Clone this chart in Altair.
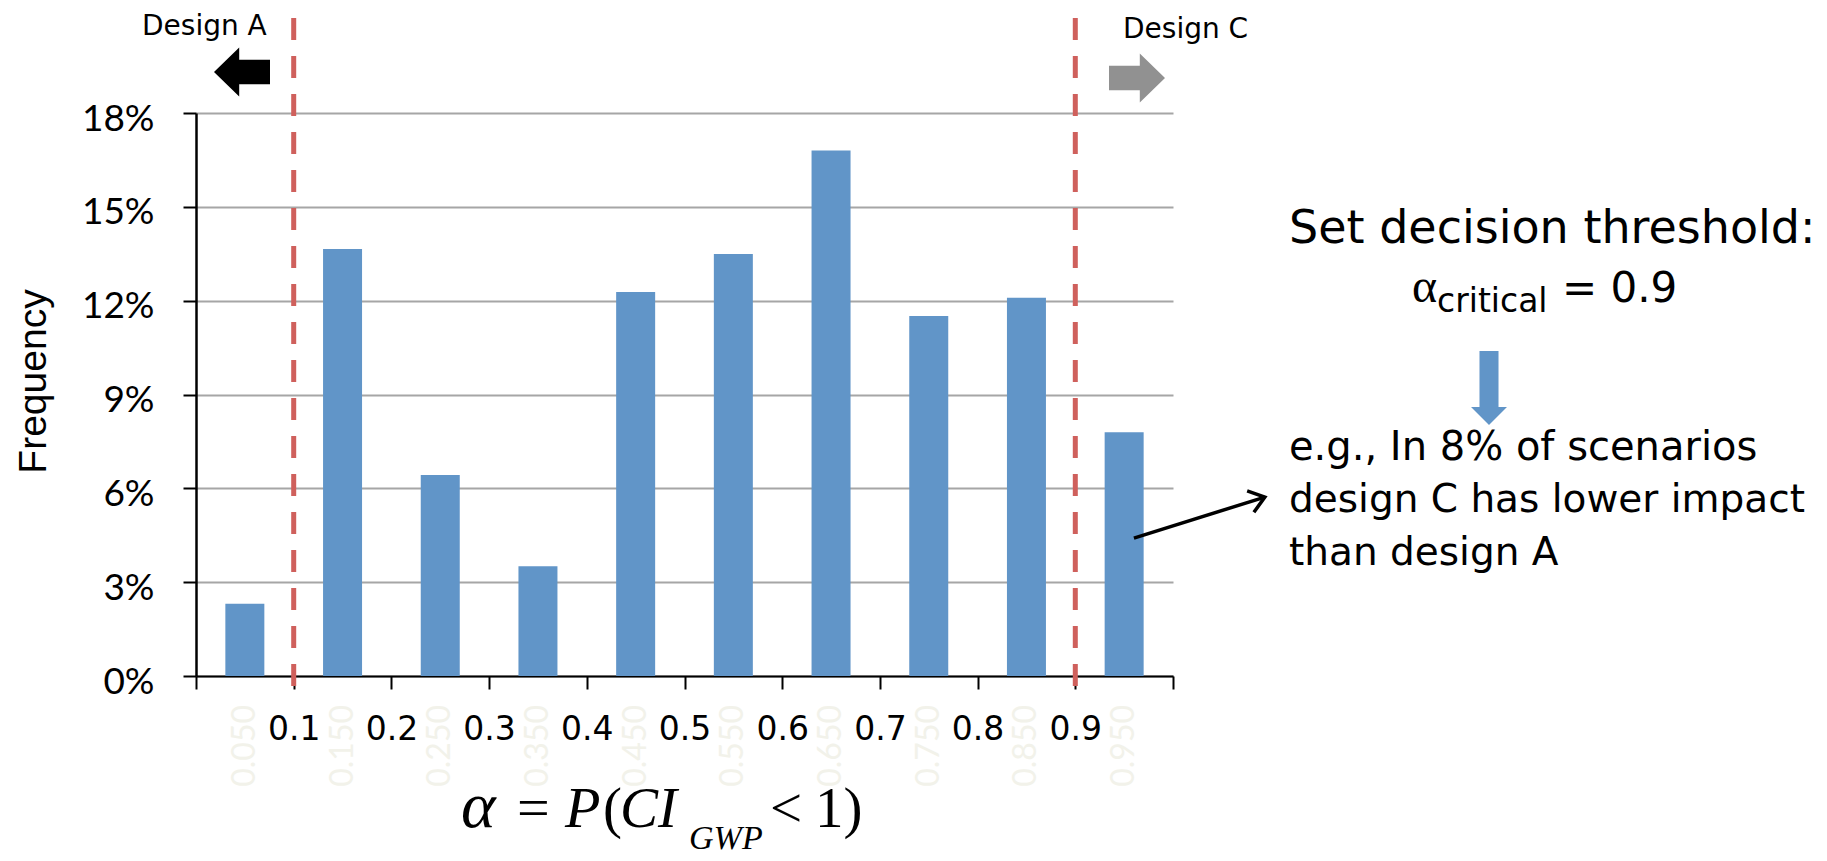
import altair as alt
import pandas as pd

# ---------------- data ----------------
bin_centers = [0.05, 0.15, 0.25, 0.35, 0.45, 0.55, 0.65, 0.75, 0.85, 0.95]
frequency = [0.0231, 0.1365, 0.0643, 0.0351, 0.1228, 0.1349, 0.1680, 0.1151, 0.1209, 0.0779]
bin_labels = ["0.050", "0.150", "0.250", "0.350", "0.450", "0.550", "0.650", "0.750", "0.850", "0.950"]
x_ticks = [0.0, 0.1, 0.2, 0.3, 0.4, 0.5, 0.6, 0.7, 0.8, 0.9, 1.0]
y_ticks = [0.0, 0.03, 0.06, 0.09, 0.12, 0.15, 0.18]
thresholds = [0.1, 0.9]
pointer_from = [0.960, 0.0441]
pointer_to = [1.094, 0.0572]

# ---------------- layout ----------------
W, H = 977, 563
PL, PT = 196, 113
PR = 1827 - PL - W
PB = 861 - PT - H

BLUE = "#6195C8"

df = pd.DataFrame({"alpha": bin_centers, "freq": frequency, "label": bin_labels})
thr_df = pd.DataFrame({"t": thresholds})
ptr_df = pd.DataFrame({"x": [pointer_from[0]], "y": [pointer_from[1]],
                       "x2": [pointer_to[0]], "y2": [pointer_to[1]]})

x_scale = alt.Scale(domain=[0, 1], nice=False, zero=False, padding=0)
y_scale = alt.Scale(domain=[0, 0.18], nice=False, padding=0)

x_axis = alt.Axis(
    values=x_ticks,
    labelExpr="datum.value > 0.05 && datum.value < 0.95 ? format(datum.value, '.1f') : ''",
    title=None, grid=False,
    domainColor="black", domainWidth=2,
    tickColor="black", tickWidth=2, tickSize=13,
    labelFont="DejaVu Sans", labelFontSize=33, labelColor="black",
    labelBaseline="alphabetic", labelPadding=50, labelFlush=False, labelOverlap=False,
)
y_axis = alt.Axis(
    values=y_ticks, format=".0%",
    title="Frequency", titleFont="Liberation Sans", titleFontSize=39,
    titleFontWeight="normal", titleColor="black", titleAngle=270,
    titleX=45 - PL, titleY=381 - PT, titleAlign="center", titleBaseline="alphabetic",
    grid=True, gridColor="#A6A6A6", gridWidth=2,
    domainColor="black", domainWidth=2.5,
    tickColor="black", tickWidth=2, tickSize=13,
    labelFont="Lato", labelFontSize=37, labelColor="black",
    labelBaseline="alphabetic", labelOffset=17, labelPadding=29, labelOverlap=False,
)

bars = alt.Chart(df).mark_bar(size=39, color=BLUE).encode(
    x=alt.X("alpha:Q", scale=x_scale, axis=x_axis),
    y=alt.Y("freq:Q", scale=y_scale, axis=y_axis),
)

faint = alt.Chart(df).mark_text(
    angle=270, align="right", baseline="middle", font="Lato", fontSize=32, color="#F2F2EA"
).encode(x=alt.X("alpha:Q", scale=x_scale), y=alt.value(705 - PT), text="label:N")

rules = alt.Chart(thr_df).mark_rule(
    color="#CF605C", strokeWidth=5, strokeDash=[22, 16]
).encode(x=alt.X("t:Q", scale=x_scale), y=alt.value(686 - PT), y2=alt.value(18 - PT))

pointer = alt.Chart(ptr_df).mark_rule(color="black", strokeWidth=3.5).encode(
    x=alt.X("x:Q", scale=x_scale), y=alt.Y("y:Q", scale=y_scale),
    x2="x2:Q", y2="y2:Q",
)
pointer_head = alt.Chart(ptr_df).mark_point(
    shape="M -1 -0.75 L 0 0 L -1 0.75", size=900, filled=False, color="black",
    strokeWidth=3.5, opacity=1, angle=342.6,
).encode(x=alt.X("x2:Q", scale=x_scale), y=alt.Y("y2:Q", scale=y_scale))


def txt(text, x, y, size, font="DejaVu Sans", align="left", style="normal"):
    return alt.Chart(pd.DataFrame({"t": [text]})).mark_text(
        align=align, baseline="alphabetic", font=font, fontSize=size,
        fontStyle=style, color="black",
    ).encode(x=alt.value(x - PL), y=alt.value(y - PT), text="t:N")


def arrow(path, cx, cy, size, color):
    return alt.Chart(pd.DataFrame({"a": [0]})).mark_point(
        shape=path, size=size, filled=True, color=color, opacity=1, strokeWidth=0,
    ).encode(x=alt.value(cx - PL), y=alt.value(cy - PT))


LEFT_ARROW = "M -1 0 L -0.1 -0.875 L -0.1 -0.435 L 1 -0.435 L 1 0.435 L -0.1 0.435 L -0.1 0.875 Z"
RIGHT_ARROW = "M 1 0 L 0.1 -0.875 L 0.1 -0.435 L -1 -0.435 L -1 0.435 L 0.1 0.435 L 0.1 0.875 Z"
DOWN_ARROW = "M -0.257 -1 L 0.257 -1 L 0.257 0.514 L 0.486 0.514 L 0 1 L -0.486 0.514 L -0.257 0.514 Z"

SERIF = "Liberation Serif"
annotations = [
    txt("Design A", 142, 35, 28),
    txt("Design C", 1123, 38, 28),
    arrow(LEFT_ARROW, 242, 72, 3136, "black"),
    arrow(RIGHT_ARROW, 1137, 78, 3136, "#919191"),
    txt("Set decision threshold:", 1289, 243, 46),
    txt("α", 1412, 302, 48, font=SERIF),
    txt("critical", 1437, 312, 33),
    txt("= 0.9", 1562, 302, 42),
    arrow(DOWN_ARROW, 1489, 388, 5476, BLUE),
    txt("e.g., In 8% of scenarios", 1289, 460, 40),
    txt("design C has lower impact", 1289, 512, 39),
    txt("than design A", 1289, 565, 39),
    # x-axis title: alpha = P(CI_GWP < 1)
    txt("α", 461, 827, 66, font=SERIF, style="italic"),
    txt("=", 517, 827, 58, font=SERIF),
    txt("P", 565, 827, 58, font=SERIF, style="italic"),
    txt("(", 603, 827, 57, font=SERIF),
    txt("CI", 620, 827, 57, font=SERIF, style="italic"),
    txt("GWP", 689, 849, 34, font=SERIF, style="italic"),
    txt("<", 770, 827, 57, font=SERIF),
    txt("1)", 815, 827, 57, font=SERIF),
]

chart = alt.layer(bars, faint, rules, pointer, pointer_head, *annotations).properties(
    width=W, height=H,
    autosize=alt.AutoSizeParams(type="none"),
    padding={"left": PL, "top": PT, "right": PR, "bottom": PB},
    background="white",
).configure_view(stroke=None)

chart.save("out.html", embed_options={"renderer": "svg", "actions": False})
